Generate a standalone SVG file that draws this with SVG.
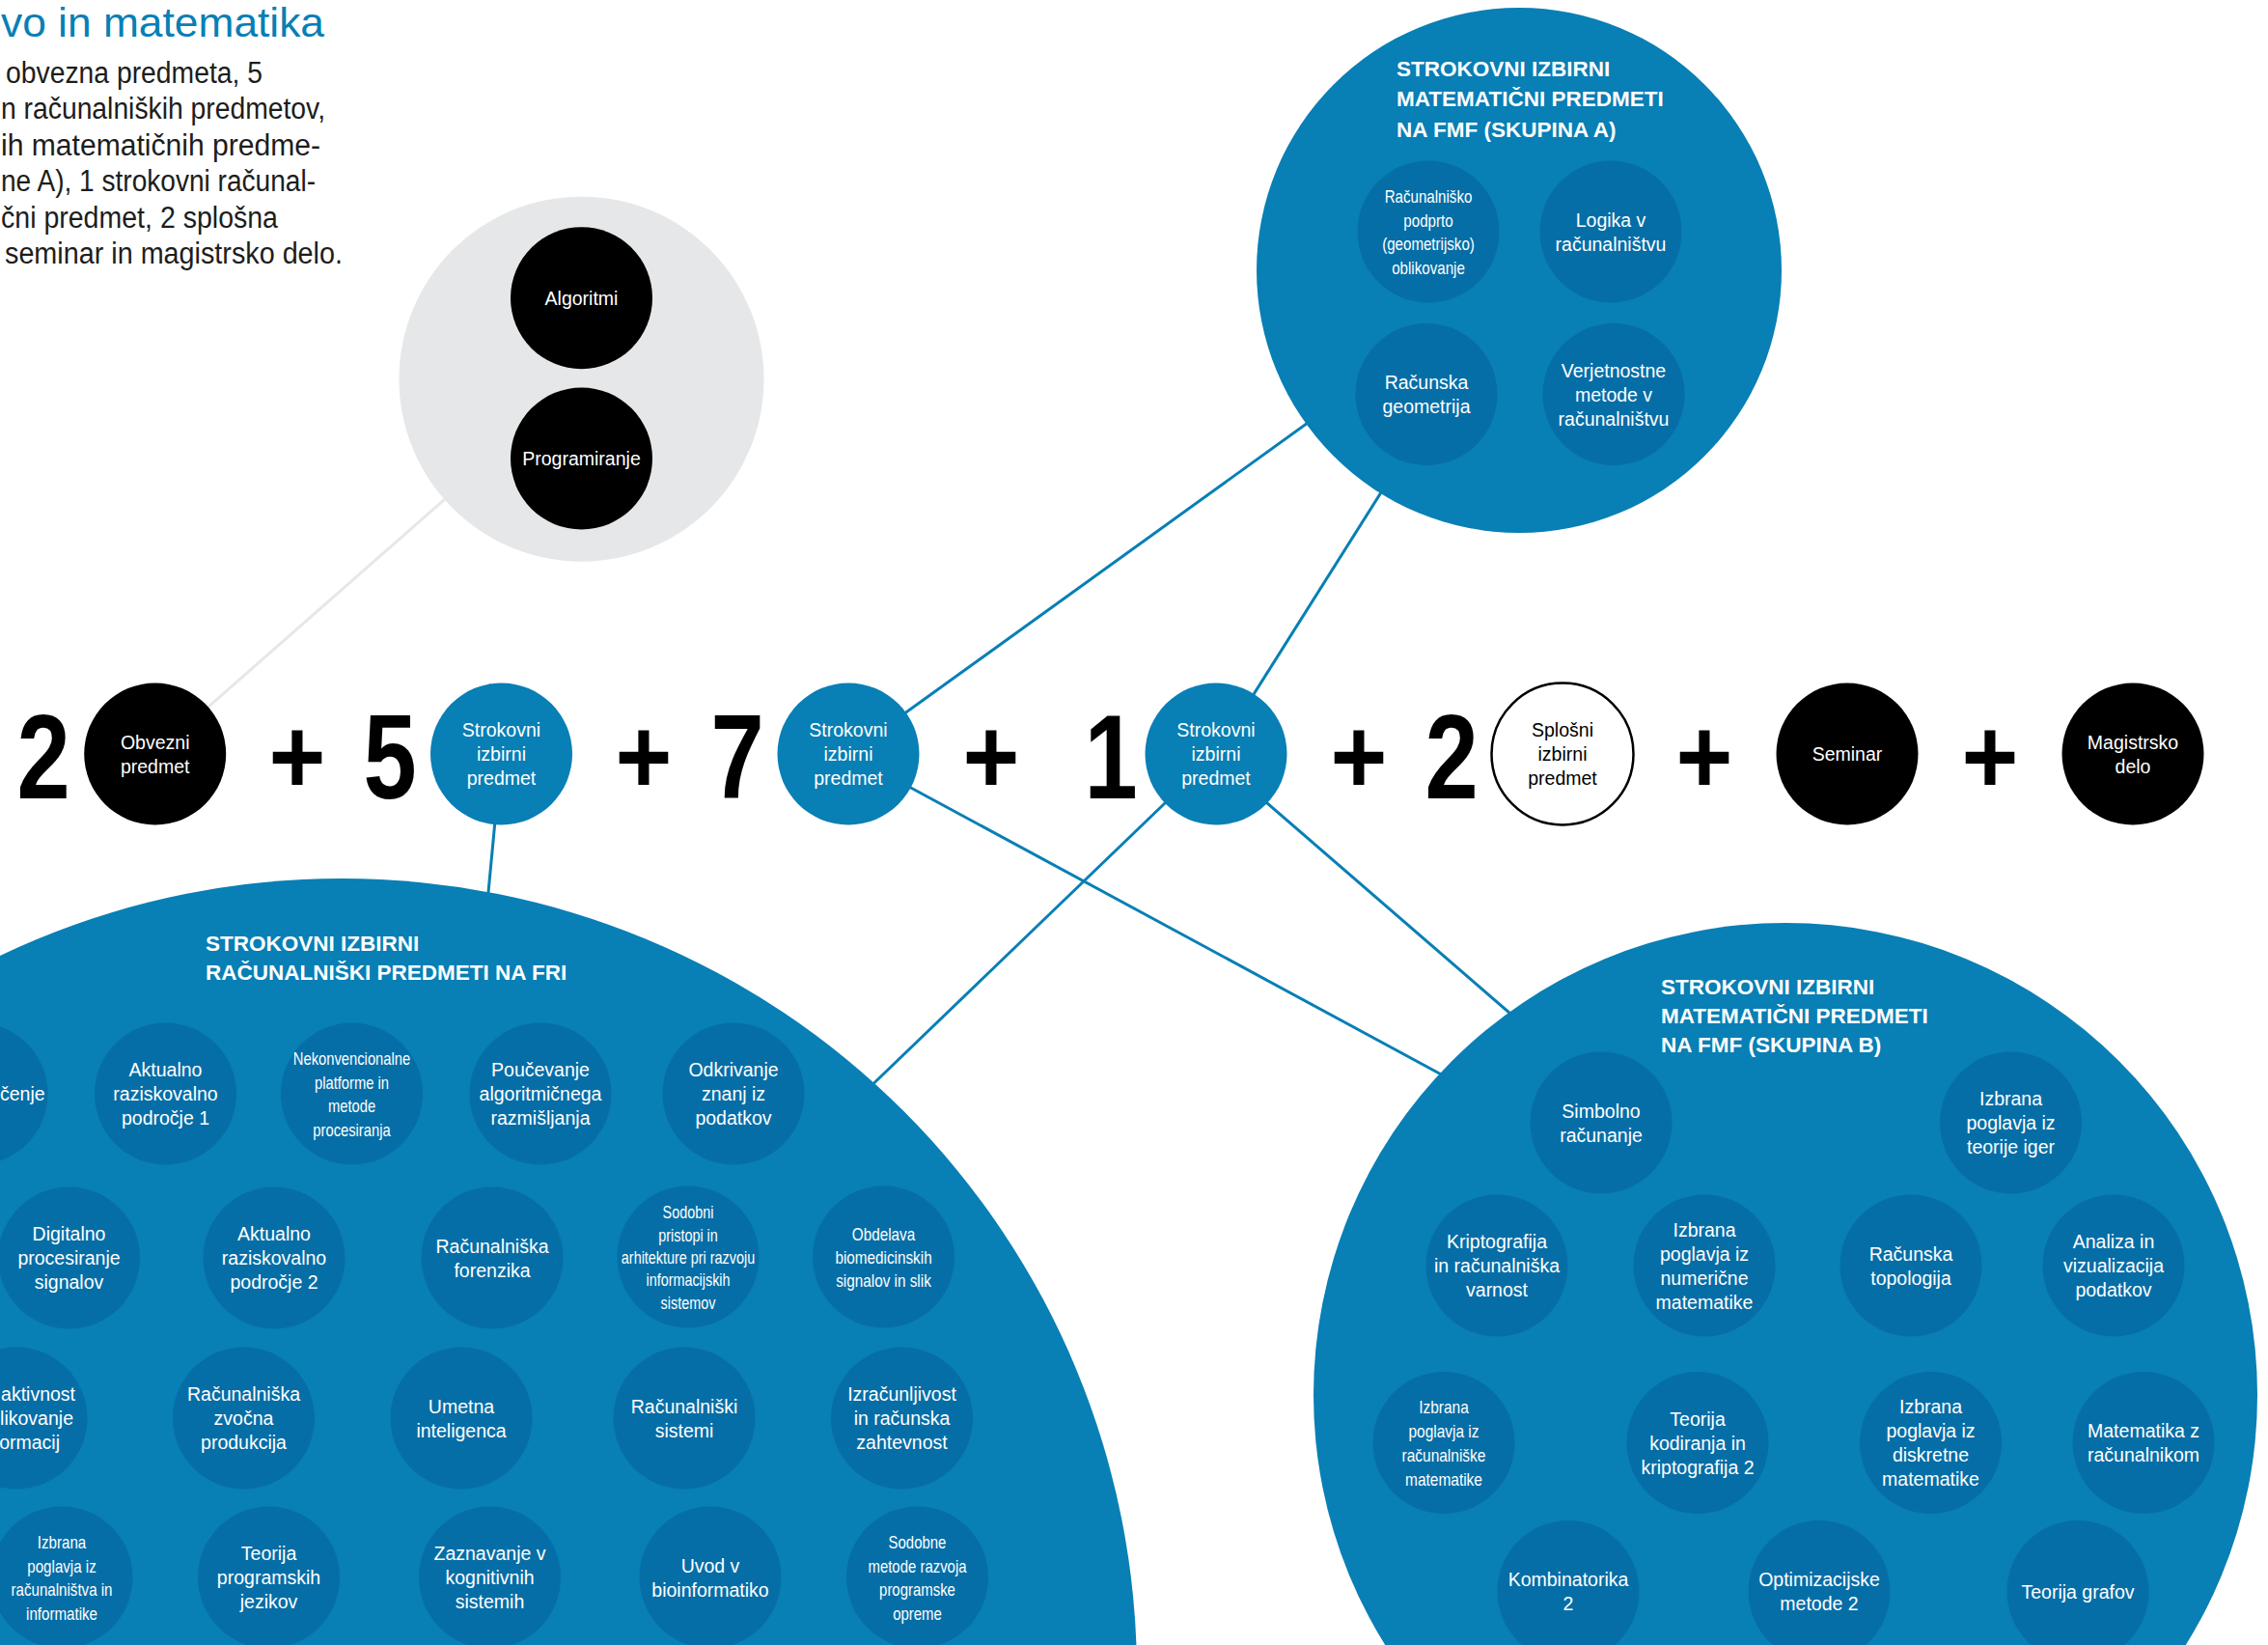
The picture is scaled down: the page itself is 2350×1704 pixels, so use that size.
<svg xmlns="http://www.w3.org/2000/svg" width="2350" height="1704" viewBox="0 0 2350 1704">
<style>
text { font-family: "Liberation Sans", Arial, sans-serif; }
.w { fill:#fff; font-size:19.5px; text-anchor:middle; }
.k { fill:#000; font-size:19.5px; text-anchor:middle; }
.n { fill:#fff; font-size:18px; text-anchor:middle; }
.we { fill:#fff; font-size:19.5px; text-anchor:end; }
.ws { fill:#fff; font-size:19.5px; text-anchor:start; }
.h { fill:#fff; font-size:22.5px; font-weight:bold; }
.num { fill:#000; font-size:124px; font-weight:bold; text-anchor:middle; }
.plus { fill:#000; font-size:112px; font-weight:bold; text-anchor:middle; }
.big { fill:#087fb5; }
.in { fill:#066ea7; }
.blk { fill:#000; }
.bl { fill:#087fb5; }
.wh { fill:#fff; stroke:#000; stroke-width:2.5; }
.gray { fill:#e6e7e8; }
.con { stroke:#087fb5; stroke-width:3; fill:none; }
.gcon { stroke:#e6e7e8; stroke-width:3; fill:none; }
.para { fill:#1d1d1b; font-size:31px; }
.title { fill:#087fb5; font-size:42px; }
</style>
<defs>
<circle id="c" r="73.5"/>
</defs>

<g id="intro">
<text class="title" x="1" y="38" textLength="335" lengthAdjust="spacingAndGlyphs">vo in matematika</text>
<text class="para" x="6" y="86" textLength="266" lengthAdjust="spacingAndGlyphs">obvezna predmeta, 5</text>
<text class="para" x="1" y="123" textLength="336" lengthAdjust="spacingAndGlyphs">n računalniških predmetov,</text>
<text class="para" x="1" y="160.5" textLength="331" lengthAdjust="spacingAndGlyphs">ih matematičnih predme-</text>
<text class="para" x="1" y="198" textLength="326" lengthAdjust="spacingAndGlyphs">ne A), 1 strokovni računal-</text>
<text class="para" x="1" y="235.5" textLength="287" lengthAdjust="spacingAndGlyphs">čni predmet, 2 splošna</text>
<text class="para" x="5" y="273" textLength="350" lengthAdjust="spacingAndGlyphs">seminar in magistrsko delo.</text>
</g>

<g id="connectors">
<line class="gcon" x1="160.7" y1="780.8" x2="602.5" y2="392.7"/>
<line class="con" x1="879" y1="781" x2="1380" y2="420"/>
<line class="con" x1="1260" y1="781" x2="1450" y2="480"/>
<line class="con" x1="519.5" y1="781" x2="505" y2="935"/>
<line class="con" x1="879" y1="781" x2="1510" y2="1122"/>
<line class="con" x1="1260" y1="781" x2="890" y2="1137"/>
<line class="con" x1="1260" y1="786" x2="1580" y2="1063"/>
</g>

<g id="obvezni-skupina">
<circle class="gray" cx="602.5" cy="392.7" r="189"/>
<g id="algoritmi" transform="translate(602.5,308.7)">
<use href="#c" class="blk"/>
<text class="w" y="7">Algoritmi</text>
</g>
<g id="programiranje" transform="translate(602.5,475)">
<use href="#c" class="blk"/>
<text class="w" y="7">Programiranje</text>
</g>
</g>

<g id="skupina-a">
<circle class="big" cx="1574" cy="280" r="272"/>
<text class="h" x="1447" y="78.5">STROKOVNI IZBIRNI</text>
<text class="h" x="1447" y="110">MATEMATIČNI PREDMETI</text>
<text class="h" x="1447" y="141.5">NA FMF (SKUPINA A)</text>
<g id="a-oblikovanje" transform="translate(1480,240)">
<use href="#c" class="in"/>
<g transform="scale(0.84,1)">
<text class="n" y="-30.5">Računalniško</text>
<text class="n" y="-5.5">podprto</text>
<text class="n" y="19.5">(geometrijsko)</text>
<text class="n" y="44.5">oblikovanje</text>
</g>
</g>
<g id="a-logika" transform="translate(1669,240)">
<use href="#c" class="in"/>
<text class="w" y="-5.5">Logika v</text>
<text class="w" y="19.5">računalništvu</text>
</g>
<g id="a-geometrija" transform="translate(1478,408.5)">
<use href="#c" class="in"/>
<text class="w" y="-5.5">Računska</text>
<text class="w" y="19.5">geometrija</text>
</g>
<g id="a-verjetnostne" transform="translate(1672,408.5)">
<use href="#c" class="in"/>
<text class="w" y="-18">Verjetnostne</text>
<text class="w" y="7">metode v</text>
<text class="w" y="32">računalništvu</text>
</g>
</g>

<g id="skupina-fri">
<circle class="big" cx="354" cy="1734" r="824"/>
<text class="h" x="213" y="985">STROKOVNI IZBIRNI</text>
<text class="h" x="213" y="1015">RAČUNALNIŠKI PREDMETI NA FRI</text>

<g id="fri-ucenje">
<circle class="in" cx="-24" cy="1133" r="73.5"/>
<text class="ws" x="0" y="1140">čenje</text>
</g>
<g id="fri-aktualno1" transform="translate(171.5,1133)">
<use href="#c" class="in"/>
<text class="w" y="-18">Aktualno</text>
<text class="w" y="7">raziskovalno</text>
<text class="w" y="32">področje 1</text>
</g>
<g id="fri-nekonvencionalne" transform="translate(364.5,1133)">
<use href="#c" class="in"/>
<g transform="scale(0.82,1)">
<text class="n" y="-30.5">Nekonvencionalne</text>
<text class="n" y="-5.5">platforme in</text>
<text class="n" y="19.5">metode</text>
<text class="n" y="44.5">procesiranja</text>
</g>
</g>
<g id="fri-poucevanje" transform="translate(560,1133)">
<use href="#c" class="in"/>
<text class="w" y="-18">Poučevanje</text>
<text class="w" y="7">algoritmičnega</text>
<text class="w" y="32">razmišljanja</text>
</g>
<g id="fri-odkrivanje" transform="translate(760,1133)">
<use href="#c" class="in"/>
<text class="w" y="-18">Odkrivanje</text>
<text class="w" y="7">znanj iz</text>
<text class="w" y="32">podatkov</text>
</g>

<g id="fri-digitalno" transform="translate(71.5,1303)">
<use href="#c" class="in"/>
<text class="w" y="-18">Digitalno</text>
<text class="w" y="7">procesiranje</text>
<text class="w" y="32">signalov</text>
</g>
<g id="fri-aktualno2" transform="translate(284,1303)">
<use href="#c" class="in"/>
<text class="w" y="-18">Aktualno</text>
<text class="w" y="7">raziskovalno</text>
<text class="w" y="32">področje 2</text>
</g>
<g id="fri-forenzika" transform="translate(510,1303)">
<use href="#c" class="in"/>
<text class="w" y="-5.5">Računalniška</text>
<text class="w" y="19.5">forenzika</text>
</g>
<g id="fri-sodobni-pristopi" transform="translate(713,1302)">
<use href="#c" class="in"/>
<g transform="scale(0.8,1)">
<text class="n" y="-40">Sodobni</text>
<text class="n" y="-16.5">pristopi in</text>
<text class="n" y="7">arhitekture pri razvoju</text>
<text class="n" y="30.5">informacijskih</text>
<text class="n" y="54">sistemov</text>
</g>
</g>
<g id="fri-obdelava" transform="translate(915.5,1302)">
<use href="#c" class="in"/>
<g transform="scale(0.85,1)">
<text class="n" y="-17">Obdelava</text>
<text class="n" y="7">biomedicinskih</text>
<text class="n" y="31">signalov in slik</text>
</g>
</g>

<g id="fri-interaktivnost">
<circle class="in" cx="17" cy="1469" r="73.5"/>
<text class="we" x="78" y="1451">aktivnost</text>
<text class="we" x="76" y="1476">likovanje</text>
<text class="we" x="62" y="1501">ormacij</text>
</g>
<g id="fri-zvocna" transform="translate(252.5,1469)">
<use href="#c" class="in"/>
<text class="w" y="-18">Računalniška</text>
<text class="w" y="7">zvočna</text>
<text class="w" y="32">produkcija</text>
</g>
<g id="fri-umetna" transform="translate(478,1469)">
<use href="#c" class="in"/>
<text class="w" y="-5.5">Umetna</text>
<text class="w" y="19.5">inteligenca</text>
</g>
<g id="fri-sistemi" transform="translate(709,1469)">
<use href="#c" class="in"/>
<text class="w" y="-5.5">Računalniški</text>
<text class="w" y="19.5">sistemi</text>
</g>
<g id="fri-izracunljivost" transform="translate(934.5,1469)">
<use href="#c" class="in"/>
<text class="w" y="-18">Izračunljivost</text>
<text class="w" y="7">in računska</text>
<text class="w" y="32">zahtevnost</text>
</g>

<g id="fri-izbrana" transform="translate(64,1634)">
<use href="#c" class="in"/>
<g transform="scale(0.84,1)">
<text class="n" y="-30.5">Izbrana</text>
<text class="n" y="-5.5">poglavja iz</text>
<text class="n" y="19.5">računalništva in</text>
<text class="n" y="44.5">informatike</text>
</g>
</g>
<g id="fri-teorija" transform="translate(278.5,1634)">
<use href="#c" class="in"/>
<text class="w" y="-18">Teorija</text>
<text class="w" y="7">programskih</text>
<text class="w" y="32">jezikov</text>
</g>
<g id="fri-zaznavanje" transform="translate(507.5,1634)">
<use href="#c" class="in"/>
<text class="w" y="-18">Zaznavanje v</text>
<text class="w" y="7">kognitivnih</text>
<text class="w" y="32">sistemih</text>
</g>
<g id="fri-uvod" transform="translate(736,1634)">
<use href="#c" class="in"/>
<text class="w" y="-5.5">Uvod v</text>
<text class="w" y="19.5">bioinformatiko</text>
</g>
<g id="fri-sodobne-metode" transform="translate(950.5,1634)">
<use href="#c" class="in"/>
<g transform="scale(0.83,1)">
<text class="n" y="-30.5">Sodobne</text>
<text class="n" y="-5.5">metode razvoja</text>
<text class="n" y="19.5">programske</text>
<text class="n" y="44.5">opreme</text>
</g>
</g>
</g>

<g id="skupina-b">
<circle class="big" cx="1850" cy="1445" r="489"/>
<text class="h" x="1721" y="1030">STROKOVNI IZBIRNI</text>
<text class="h" x="1721" y="1060">MATEMATIČNI PREDMETI</text>
<text class="h" x="1721" y="1090">NA FMF (SKUPINA B)</text>
<g id="b-simbolno" transform="translate(1659,1163)">
<use href="#c" class="in"/>
<text class="w" y="-5.5">Simbolno</text>
<text class="w" y="19.5">računanje</text>
</g>
<g id="b-teorija-iger" transform="translate(2083.5,1163)">
<use href="#c" class="in"/>
<text class="w" y="-18">Izbrana</text>
<text class="w" y="7">poglavja iz</text>
<text class="w" y="32">teorije iger</text>
</g>
<g id="b-kriptografija" transform="translate(1551,1311)">
<use href="#c" class="in"/>
<text class="w" y="-18">Kriptografija</text>
<text class="w" y="7">in računalniška</text>
<text class="w" y="32">varnost</text>
</g>
<g id="b-numericne" transform="translate(1766,1311)">
<use href="#c" class="in"/>
<text class="w" y="-30.5">Izbrana</text>
<text class="w" y="-5.5">poglavja iz</text>
<text class="w" y="19.5">numerične</text>
<text class="w" y="44.5">matematike</text>
</g>
<g id="b-topologija" transform="translate(1980,1311)">
<use href="#c" class="in"/>
<text class="w" y="-5.5">Računska</text>
<text class="w" y="19.5">topologija</text>
</g>
<g id="b-analiza" transform="translate(2190,1311)">
<use href="#c" class="in"/>
<text class="w" y="-18">Analiza in</text>
<text class="w" y="7">vizualizacija</text>
<text class="w" y="32">podatkov</text>
</g>
<g id="b-racunalniske" transform="translate(1496,1494.5)">
<use href="#c" class="in"/>
<g transform="scale(0.86,1)">
<text class="n" y="-30.5">Izbrana</text>
<text class="n" y="-5.5">poglavja iz</text>
<text class="n" y="19.5">računalniške</text>
<text class="n" y="44.5">matematike</text>
</g>
</g>
<g id="b-kodiranje" transform="translate(1759,1494.5)">
<use href="#c" class="in"/>
<text class="w" y="-18">Teorija</text>
<text class="w" y="7">kodiranja in</text>
<text class="w" y="32">kriptografija 2</text>
</g>
<g id="b-diskretne" transform="translate(2000.5,1494.5)">
<use href="#c" class="in"/>
<text class="w" y="-30.5">Izbrana</text>
<text class="w" y="-5.5">poglavja iz</text>
<text class="w" y="19.5">diskretne</text>
<text class="w" y="44.5">matematike</text>
</g>
<g id="b-matematika-racunalnik" transform="translate(2221,1494.5)">
<use href="#c" class="in"/>
<text class="w" y="-5.5">Matematika z</text>
<text class="w" y="19.5">računalnikom</text>
</g>
<g id="b-kombinatorika" transform="translate(1625,1648.5)">
<use href="#c" class="in"/>
<text class="w" y="-5.5">Kombinatorika</text>
<text class="w" y="19.5">2</text>
</g>
<g id="b-optimizacijske" transform="translate(1885,1648.5)">
<use href="#c" class="in"/>
<text class="w" y="-5.5">Optimizacijske</text>
<text class="w" y="19.5">metode 2</text>
</g>
<g id="b-grafov" transform="translate(2153,1648.5)">
<use href="#c" class="in"/>
<text class="w" y="7">Teorija grafov</text>
</g>
</g>

<g id="formula">
<text class="num" transform="translate(45,827) scale(0.8,1)">2</text>
<g id="obvezni" transform="translate(160.7,781)">
<use href="#c" class="blk"/>
<text class="w" y="-5.5">Obvezni</text>
<text class="w" y="19.5">predmet</text>
</g>
<text class="plus" transform="translate(308,822) scale(0.9,1)">+</text>
<text class="num" transform="translate(404,827) scale(0.8,1)">5</text>
<g id="strokovni-5" transform="translate(519.5,781)">
<use href="#c" class="bl"/>
<text class="w" y="-18">Strokovni</text>
<text class="w" y="7">izbirni</text>
<text class="w" y="32">predmet</text>
</g>
<text class="plus" transform="translate(667,822) scale(0.9,1)">+</text>
<text class="num" transform="translate(764,827) scale(0.8,1)">7</text>
<g id="strokovni-7" transform="translate(879,781)">
<use href="#c" class="bl"/>
<text class="w" y="-18">Strokovni</text>
<text class="w" y="7">izbirni</text>
<text class="w" y="32">predmet</text>
</g>
<text class="plus" transform="translate(1027,822) scale(0.9,1)">+</text>
<text class="num" transform="translate(1151,827) scale(0.8,1)">1</text>
<g id="strokovni-1" transform="translate(1260,781)">
<use href="#c" class="bl"/>
<text class="w" y="-18">Strokovni</text>
<text class="w" y="7">izbirni</text>
<text class="w" y="32">predmet</text>
</g>
<text class="plus" transform="translate(1408,822) scale(0.9,1)">+</text>
<text class="num" transform="translate(1504,827) scale(0.8,1)">2</text>
<g id="splosni" transform="translate(1619,781)">
<use href="#c" class="wh"/>
<text class="k" y="-18">Splošni</text>
<text class="k" y="7">izbirni</text>
<text class="k" y="32">predmet</text>
</g>
<text class="plus" transform="translate(1766,822) scale(0.9,1)">+</text>
<g id="seminar" transform="translate(1914,781)">
<use href="#c" class="blk"/>
<text class="w" y="7">Seminar</text>
</g>
<text class="plus" transform="translate(2062,822) scale(0.9,1)">+</text>
<g id="magistrsko" transform="translate(2210,781)">
<use href="#c" class="blk"/>
<text class="w" y="-5.5">Magistrsko</text>
<text class="w" y="19.5">delo</text>
</g>
</g>
</svg>
